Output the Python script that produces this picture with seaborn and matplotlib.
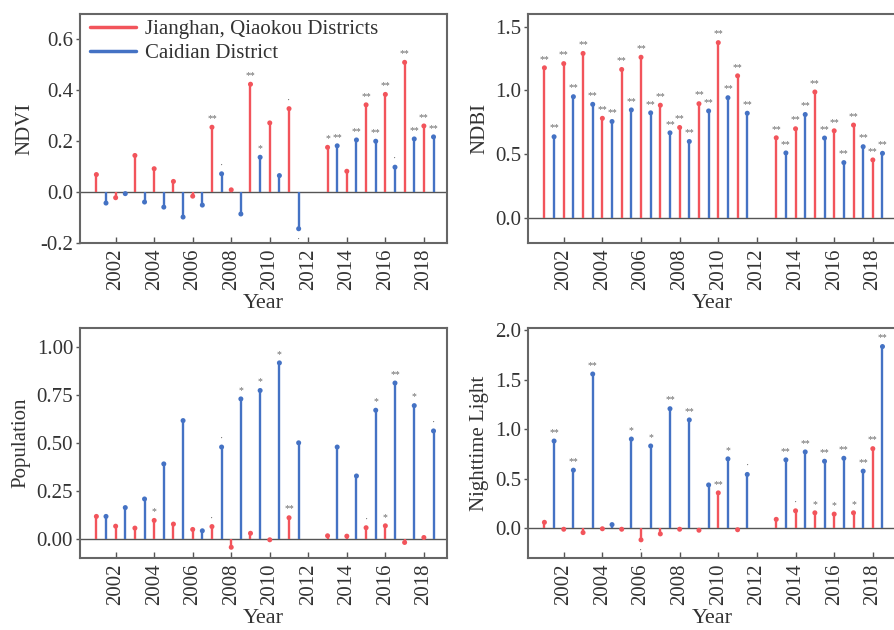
import numpy as np
import pandas as pd
import matplotlib
matplotlib.use("Agg")
import matplotlib.pyplot as plt
from matplotlib.lines import Line2D
import seaborn as sns

# ---------------- data ----------------
years = [2001, 2002, 2003, 2004, 2005, 2006, 2007, 2008, 2009, 2010, 2011,
         2013, 2014, 2015, 2016, 2017, 2018]
series_names = ["Jianghan, Qiaokou Districts", "Caidian District"]

ndvi_jq = [0.069, -0.022, 0.144, 0.092, 0.042, -0.016, 0.255, 0.009, 0.424, 0.272, 0.328,
           0.176, 0.082, 0.343, 0.384, 0.510, 0.260]
ndvi_cd = [-0.043, -0.006, -0.039, -0.059, -0.098, -0.051, 0.072, -0.086, 0.137, 0.065, -0.144,
           0.182, 0.205, 0.200, 0.098, 0.209, 0.217]
ndvi_jq_sig = ["", "", "", "", "", "", "**", "", "**", "", "·",
               "*", "", "**", "**", "**", "**"]
ndvi_cd_sig = ["", "", "", "", "", "", "·", "", "*", "", "·",
               "**", "**", "**", "·", "**", "**"]

ndbi_jq = [1.177, 1.21, 1.29, 0.78, 1.164, 1.26, 0.883, 0.708, 0.895, 1.375, 1.114,
           0.627, 0.698, 0.987, 0.682, 0.727, 0.453]
ndbi_cd = [0.635, 0.95, 0.89, 0.755, 0.846, 0.823, 0.666, 0.598, 0.838, 0.942, 0.82,
           0.508, 0.81, 0.625, 0.432, 0.557, 0.505]
ndbi_jq_sig = ["**"] * 17
ndbi_cd_sig = ["**"] * 17

pop_jq = [0.117, 0.066, 0.056, 0.096, 0.077, 0.049, 0.064, -0.044, 0.029, -0.005, 0.110,
          0.016, 0.014, 0.058, 0.068, -0.019, 0.007]
pop_cd = [0.117, 0.163, 0.208, 0.391, 0.617, 0.042, 0.479, 0.730, 0.774, 0.918, 0.501,
          0.479, 0.328, 0.671, 0.813, 0.695, 0.563]
pop_jq_sig = ["", "", "", "*", "", "", "·", "", "", "", "**",
              "", "", "·", "*", "", ""]
pop_cd_sig = ["", "", "", "", "", "", "·", "*", "*", "*", "",
              "", "", "*", "**", "*", "·"]

ntl_jq = [0.06, -0.01, -0.044, -0.005, -0.01, -0.117, -0.057, -0.01, -0.02, 0.357, -0.015,
          0.09, 0.176, 0.156, 0.143, 0.156, 0.803]
ntl_cd = [0.88, 0.586, 1.556, 0.037, 0.90, 0.83, 1.206, 1.093, 0.437, 0.70, 0.543,
          0.69, 0.77, 0.676, 0.706, 0.576, 1.833]
ntl_jq_sig = ["", "", "", "", "", "·", "", "", "", "**", "",
              "", "·", "*", "*", "*", "**"]
ntl_cd_sig = ["**", "**", "**", "", "*", "*", "**", "**", "", "*", "·",
              "**", "**", "**", "**", "**", "**"]

xticks = [2002, 2004, 2006, 2008, 2010, 2012, 2014, 2016, 2018]

panels = [
    ("NDVI", ndvi_jq, ndvi_cd, ndvi_jq_sig, ndvi_cd_sig, (-0.2, 0.7), [-0.2, 0.0, 0.2, 0.4, 0.6], "{:.1f}"),
    ("NDBI", ndbi_jq, ndbi_cd, ndbi_jq_sig, ndbi_cd_sig, (-0.2, 1.6), [0.0, 0.5, 1.0, 1.5], "{:.1f}"),
    ("Population", pop_jq, pop_cd, pop_jq_sig, pop_cd_sig, (-0.1, 1.1), [0.0, 0.25, 0.5, 0.75, 1.0], "{:.2f}"),
    ("Nighttime Light", ntl_jq, ntl_cd, ntl_jq_sig, ntl_cd_sig, (-0.3, 2.02), [0.0, 0.5, 1.0, 1.5, 2.0], "{:.1f}"),
]

# ---------------- style ----------------
sns.set_theme(style="ticks")
plt.rcParams["font.family"] = ["Liberation Serif", "DejaVu Serif"]
plt.rcParams["text.color"] = "#333333"
plt.rcParams["axes.labelcolor"] = "#333333"
plt.rcParams["xtick.color"] = "#555555"
plt.rcParams["ytick.color"] = "#555555"
plt.rcParams["xtick.labelcolor"] = "#333333"
plt.rcParams["ytick.labelcolor"] = "#333333"

RED = "#f2545b"
BLUE = "#4472c4"
palette = {series_names[0]: RED, series_names[1]: BLUE}

fig = plt.figure(figsize=(8.94, 6.30), dpi=100)
boxes = [
    (80 / 894, 1 - 243 / 630, 367 / 894, 229 / 630),
    (528 / 894, 1 - 243 / 630, 368 / 894, 229 / 630),
    (80 / 894, 1 - 558 / 630, 367 / 894, 230 / 630),
    (528 / 894, 1 - 558 / 630, 368 / 894, 230 / 630),
]

for (label, jq, cd, jq_sig, cd_sig, ylim, yticks, fmt), box in zip(panels, boxes):
    ax = fig.add_axes(box)
    df = pd.DataFrame({
        "x": [y for y in years] + [y + 0.5 for y in years],
        "value": list(jq) + list(cd),
        "district": [series_names[0]] * len(years) + [series_names[1]] * len(years),
        "sig": list(jq_sig) + list(cd_sig),
    })
    ax.axhline(0, color="#555555", lw=1.0, zorder=1)
    for name, sub in df.groupby("district"):
        ax.vlines(sub["x"], 0, sub["value"], color=palette[name], lw=1.7, zorder=2)
    sns.scatterplot(data=df, x="x", y="value", hue="district", palette=palette,
                    s=13, edgecolor="none", legend=False, ax=ax, zorder=3)
    for _, r in df.iterrows():
        if r["sig"]:
            off = 3 if r["value"] >= 0 else -11
            ax.annotate(r["sig"], (r["x"], r["value"]), xytext=(0, off),
                        textcoords="offset points", ha="center", va="bottom",
                        fontsize=7, color="#6a6a6a")
    ax.set_xlim(2000.15, 2019.2)
    ax.set_ylim(*ylim)
    ax.set_xticks(xticks)
    ax.set_xticklabels([str(t) for t in xticks], rotation=90, fontsize=15)
    ax.set_yticks(yticks)
    ax.set_yticklabels([fmt.format(t) for t in yticks], fontsize=15)
    ax.tick_params(axis="x", direction="in", length=4, width=1, pad=4)
    ax.tick_params(axis="y", direction="out", length=3, width=1, pad=2)
    ax.set_xlabel("Year", fontsize=16, labelpad=3)
    ax.set_ylabel(label, fontsize=15, labelpad=4)
    for sp in ax.spines.values():
        sp.set_color("#666666")
        sp.set_linewidth(1.5)
    if label == "NDVI":
        handles = [Line2D([0], [0], color=RED, lw=2.5), Line2D([0], [0], color=BLUE, lw=2.5)]
        ax.legend(handles, series_names, loc="upper left", frameon=False, fontsize=15,
                  handlelength=2.2, handletextpad=0.4, borderaxespad=0.1,
                  labelspacing=0.2, bbox_to_anchor=(0.0, 1.02))

fig.savefig("out.png", dpi=100)
